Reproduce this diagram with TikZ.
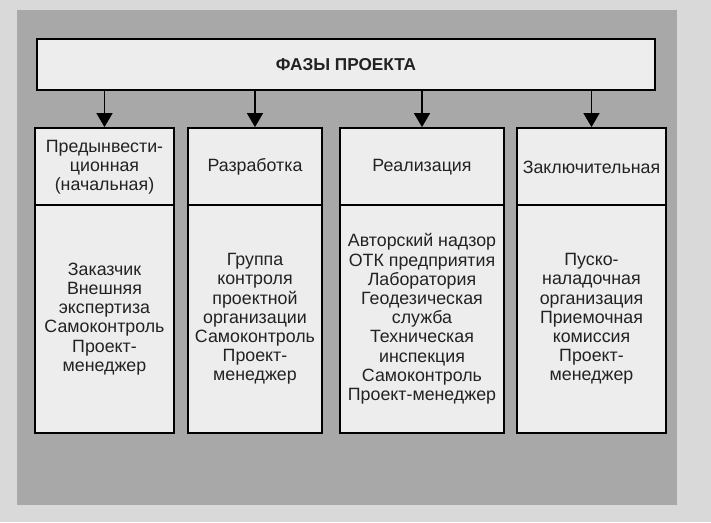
\documentclass[tikz,border=0pt]{standalone}
\usepackage{fontspec}
\setmainfont{Liberation Sans}
\usetikzlibrary{arrows.meta}
\definecolor{paper}{HTML}{D9D9D9}
\definecolor{panel}{HTML}{A8A8A8}
\definecolor{boxfill}{HTML}{EDEDED}
\definecolor{ink}{HTML}{222222}
\tikzset{
  x=1pt,y=1pt,
  box/.style={draw=black, line width=1.8pt, fill=boxfill, inner sep=0pt, align=center,
    text=ink, font=\fontsize{17.8}{19.2}\selectfont},
  hdr/.style={box, minimum height=78pt},
  bdy/.style={box, minimum height=228pt},
  arr/.style={line width=1.5pt, -{Triangle[width=16pt,length=14pt]}}
}
\begin{document}
\begin{tikzpicture}
\useasboundingbox (0,0) rectangle (711,522);
\fill[paper] (0,0) rectangle (711,522);
\fill[panel] (17,17) rectangle (677,512);
\node[box, minimum width=618pt, minimum height=51pt, font=\fontsize{17.2}{19}\bfseries] (top) at (346,457.5) {ФАЗЫ ПРОЕКТА};
% headers
\node[hdr, minimum width=139pt] (h1) at (104.5,355) {Предынвести-\\ционная\\(начальная)};
\node[hdr, minimum width=134pt] (h2) at (255,355) {Разработка};
\node[hdr, minimum width=164pt] (h3) at (422,355) {Реализация};
\node[hdr, minimum width=149pt] (h4) at (591.5,355) {Заключительная};
% bodies
\node[bdy, minimum width=139pt] (b1) at (104.5,203) {Заказчик\\Внешняя\\экспертиза\\Самоконтроль\\Проект-\\менеджер};
\node[bdy, minimum width=134pt] (b2) at (255,203) {Группа\\контроля\\проектной\\организации\\Самоконтроль\\Проект-\\менеджер};
\node[bdy, minimum width=164pt] (b3) at (422,203) {Авторский надзор\\ОТК предприятия\\Лаборатория\\Геодезическая\\служба\\Техническая\\инспекция\\Самоконтроль\\Проект-менеджер};
\node[bdy, minimum width=149pt] (b4) at (591.5,203) {Пуско-\\наладочная\\организация\\Приемочная\\комиссия\\Проект-\\менеджер};
% arrows
\foreach \h in {h1,h2,h3,h4}
  \draw[arr] (top.south -| \h.north) -- (\h.north);
\end{tikzpicture}
\end{document}
